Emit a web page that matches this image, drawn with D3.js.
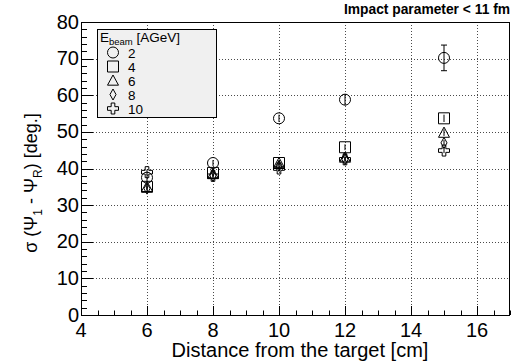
<!DOCTYPE html>
<html><head><meta charset="utf-8">
<script src="https://cdn.jsdelivr.net/npm/d3@7"></script>
<style>body{margin:0;background:#fff;} svg{display:block;} text{font-family:"Liberation Sans",Arimo,Arial,Helvetica,sans-serif;}</style>
</head><body>
<svg id="c" width="514" height="362"></svg>
<script>
const distances = [6, 8, 10, 12, 15];
const energies = ["2", "4", "6", "8", "10"];
const markers = ["circle", "square", "triangle", "diamond", "cross"];
const sigma2  = [37.5, 41.5, 53.7, 58.8, 70.2];
const err2    = [1.0, 0.8, 1.0, 1.5, 3.5];
const sigma4  = [35.0, 38.8, 41.5, 45.8, 53.7];
const err4    = [0.8, 0.7, 0.7, 0.8, 1.0];
const sigma6  = [35.0, 38.5, 41.5, 43.0, 49.8];
const err6    = [0.8, 0.7, 0.6, 0.7, 0.9];
const sigma8  = [34.5, 38.0, 40.7, 42.5, 47.0];
const err8    = [0.7, 0.6, 0.6, 0.6, 0.8];
const sigma10 = [39.0, 38.0, 40.0, 42.5, 44.9];
const err10   = [0.7, 0.6, 0.6, 0.6, 0.7];
const xTicks = [4, 6, 8, 10, 12, 14, 16];
const yTicks = [0, 10, 20, 30, 40, 50, 60, 70, 80];
const titleText = "Impact parameter < 11 fm";

const series = [sigma2, sigma4, sigma6, sigma8, sigma10].map((v, i) => ({
  name: energies[i], marker: markers[i], vals: v,
  errs: [err2, err4, err6, err8, err10][i]
}));

const FONT = "Liberation Sans, Arimo, Arial, sans-serif";
const svg = d3.select("#c");
const L = 81, R = 510, T = 22, B = 315;
const x = d3.scaleLinear().domain([4, 17]).range([L, R]);
const y = d3.scaleLinear().domain([0, 80]).range([B, T]);

// grid
const g = svg.append("g");
xTicks.filter(t => t > 4).forEach(t => {
  g.append("line").attr("x1", Math.round(x(t)) + 0.5).attr("x2", Math.round(x(t)) + 0.5).attr("y1", T).attr("y2", B)
    .attr("stroke", "#000").attr("stroke-width", 1).attr("stroke-dasharray", "1,2").attr("opacity", 0.7);
});
yTicks.filter(t => t > 0 && t < 80).forEach(t => {
  g.append("line").attr("x1", L).attr("x2", R).attr("y1", Math.round(y(t)) + 0.5).attr("y2", Math.round(y(t)) + 0.5)
    .attr("stroke", "#000").attr("stroke-width", 1).attr("stroke-dasharray", "1,2").attr("opacity", 0.7);
});

// axes (ticks inside)
const xMinor = d3.range(4, 17.01, 0.5);
const yMinor = d3.range(0, 80.01, 2);
const ax = svg.append("g").attr("stroke", "#000").attr("stroke-width", 1);
xMinor.forEach(t => {
  const major = xTicks.includes(t);
  const len = major ? 9 : 4.5;
  ax.append("line").attr("x1", Math.round(x(t)) + 0.5).attr("x2", Math.round(x(t)) + 0.5)
    .attr("y1", B).attr("y2", B - len);
});
yMinor.forEach(t => {
  const major = yTicks.includes(t);
  const len = major ? 12 : 6;
  ax.append("line").attr("x1", L).attr("x2", L + len)
    .attr("y1", Math.round(y(t)) + 0.5).attr("y2", Math.round(y(t)) + 0.5);
});
svg.append("rect").attr("x", L + 0.5).attr("y", T + 0.5).attr("width", R - L - 1).attr("height", B - T)
  .attr("fill", "none").attr("stroke", "#000").attr("stroke-width", 1);

// tick labels
svg.append("g").selectAll("text").data(xTicks).join("text")
  .attr("font-family", FONT)
  .attr("x", d => x(d)).attr("y", B + 22).attr("text-anchor", "middle")
  .attr("font-size", 20).text(d => d);
svg.append("g").selectAll("text").data(yTicks).join("text")
  .attr("font-family", FONT)
  .attr("x", L - 2).attr("y", d => y(d) + 6.5).attr("text-anchor", "end")
  .attr("font-size", 20).text(d => d);

// axis titles
svg.append("text").attr("font-family", FONT).attr("x", 300).attr("y", 357).attr("text-anchor", "middle")
  .attr("font-size", 20).text("Distance from the target [cm]");
const yl = svg.append("text").attr("font-family", FONT).attr("transform", "translate(37,183) rotate(-90)")
  .attr("text-anchor", "middle").attr("font-size", 18);
yl.append("tspan").text("σ (Ψ");
yl.append("tspan").attr("font-size", 12).attr("dy", 5).text("1");
yl.append("tspan").attr("dy", -5).text(" - Ψ");
yl.append("tspan").attr("font-size", 12).attr("dy", 5).text("R");
yl.append("tspan").attr("dy", -5).text(") [deg.]");

// title
svg.append("text").attr("font-family", FONT).attr("x", 510).attr("y", 14).attr("text-anchor", "end")
  .attr("font-size", 13.8).attr("font-weight", "bold").text(titleText);

// marker path generator
function markerPath(type, s) {
  const h = s / 2;
  switch (type) {
    case "circle": return d3.symbol(d3.symbolCircle, Math.PI * h * h)();
    case "square": return `M${-h},${-h}H${h}V${h}H${-h}Z`;
    case "triangle": return `M0,${-h}L${h},${h * 0.85}L${-h},${h * 0.85}Z`;
    case "diamond": return `M0,${-h}L${h * 0.55},0L0,${h}L${-h * 0.55},0Z`;
    case "cross": { const a = h * 0.33; return `M${-a},${-h}H${a}V${-a}H${h}V${a}H${a}V${h}H${-a}V${a}H${-h}V${-a}H${-a}Z`; }
  }
}

// data
const dg = svg.append("g");
series.forEach(s => {
  s.vals.forEach((v, i) => {
    const cx = x(distances[i]), cy = y(v), e = s.errs[i];
    dg.append("line").attr("x1", cx).attr("x2", cx).attr("y1", y(v + e)).attr("y2", y(v - e))
      .attr("stroke", "#000").attr("stroke-width", 1);
    if (e > 2) {
      dg.append("line").attr("x1", cx - 3).attr("x2", cx + 3).attr("y1", y(v + e)).attr("y2", y(v + e)).attr("stroke", "#000");
      dg.append("line").attr("x1", cx - 3).attr("x2", cx + 3).attr("y1", y(v - e)).attr("y2", y(v - e)).attr("stroke", "#000");
    }
    dg.append("path").attr("d", markerPath(s.marker, 11)).attr("transform", `translate(${cx},${cy})`)
      .attr("fill", "none").attr("stroke", "#000").attr("stroke-width", 1);
  });
});

// legend
const lg = svg.append("g");
lg.append("rect").attr("x", 97.5).attr("y", 29.5).attr("width", 119).attr("height", 88)
  .attr("fill", "#f0f0f0").attr("stroke", "#000").attr("stroke-width", 1);
const ht = lg.append("text").attr("font-family", FONT).attr("x", 100).attr("y", 42).attr("font-size", 13.5);
ht.append("tspan").text("E");
ht.append("tspan").attr("font-size", 9.5).attr("dy", 3).text("beam");
ht.append("tspan").attr("dy", -3).text(" [AGeV]");
series.forEach((s, i) => {
  const yy = 52.5 + i * 14;
  lg.append("path").attr("d", markerPath(s.marker, 11)).attr("transform", `translate(113,${yy})`)
    .attr("fill", "none").attr("stroke", "#000");
  lg.append("text").attr("font-family", FONT).attr("x", 128).attr("y", yy + 5).attr("font-size", 13.5).text(s.name);
});
</script>
</body></html>
